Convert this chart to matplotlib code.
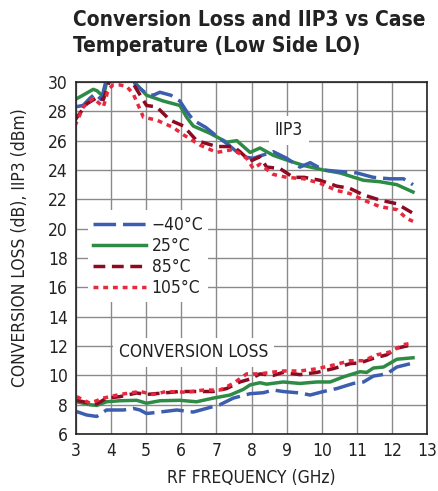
import matplotlib
matplotlib.use("Agg")
import matplotlib.pyplot as plt

plt.rcParams['font.family'] = ['DejaVu Sans']
plt.rcParams['font.stretch'] = 'condensed'

# ---- data ----
iip3_m40_f = [2.97, 3.2, 3.4, 3.55, 3.72, 3.9, 4.2, 4.5, 4.7, 5.01, 5.2, 5.39, 5.7, 5.96, 6.15, 6.34, 6.7, 7.01, 7.3, 7.5, 7.77, 8.05, 8.3, 8.62, 9.0, 9.38, 9.67, 10.05, 10.5, 11.0, 11.47, 11.95, 12.33, 12.6]
iip3_m40 = [28.3, 28.4, 28.9, 29.2, 28.8, 30.5, 31.0, 30.8, 29.8, 29.2, 29.1, 29.3, 29.1, 28.7, 28.0, 27.4, 26.9, 26.3, 25.8, 25.4, 24.9, 24.8, 25.0, 25.25, 24.8, 24.2, 24.5, 24.0, 23.9, 23.8, 23.5, 23.4, 23.4, 23.0]

iip3_25_f = [2.97, 3.2, 3.49, 3.6, 3.78, 3.92, 4.2, 4.5, 4.7, 5.01, 5.49, 5.96, 6.15, 6.34, 6.82, 7.29, 7.58, 7.96, 8.24, 8.62, 9.1, 9.5, 10.05, 10.52, 11.19, 11.66, 12.14, 12.6]
iip3_25 = [28.8, 29.1, 29.5, 29.4, 29.0, 30.5, 31.0, 30.8, 29.9, 29.1, 28.7, 28.4, 27.6, 27.0, 26.5, 25.9, 26.0, 25.2, 25.5, 25.0, 24.6, 24.3, 24.0, 23.8, 23.3, 23.2, 23.0, 22.5]

iip3_85_f = [2.97, 3.3, 3.64, 3.78, 3.97, 4.49, 4.7, 5.01, 5.3, 5.68, 6.06, 6.44, 7.01, 7.48, 7.67, 7.96, 8.24, 8.43, 8.81, 9.19, 9.5, 9.95, 10.43, 10.8, 11.19, 11.66, 12.14, 12.6]
iip3_85 = [27.4, 28.5, 29.0, 28.8, 30.2, 30.5, 29.6, 28.4, 28.3, 27.4, 27.0, 26.0, 25.6, 25.6, 25.25, 24.6, 24.9, 24.2, 24.1, 23.5, 23.5, 23.3, 22.9, 22.75, 22.3, 21.95, 21.7, 21.05]

iip3_105_f = [2.97, 3.21, 3.49, 3.78, 3.92, 4.06, 4.25, 4.44, 4.63, 4.92, 5.3, 5.77, 6.06, 6.53, 7.01, 7.48, 7.86, 8.05, 8.24, 8.62, 9.0, 9.5, 9.95, 10.43, 10.8, 11.19, 11.66, 12.14, 12.42, 12.6]
iip3_105 = [27.0, 28.3, 28.9, 28.3, 29.5, 29.8, 29.8, 29.7, 29.2, 27.6, 27.4, 26.9, 26.4, 25.7, 25.2, 25.4, 24.8, 24.1, 24.4, 23.7, 23.5, 23.4, 23.1, 22.6, 22.4, 21.95, 21.5, 21.3, 20.7, 20.5]

cl_m40_f = [3.02, 3.3, 3.59, 3.87, 4.35, 4.63, 4.82, 5.01, 5.39, 5.87, 6.34, 6.72, 7.1, 7.48, 7.96, 8.34, 8.62, 8.9, 9.38, 9.67, 10.05, 10.43, 10.9, 11.19, 11.47, 11.85, 12.14, 12.6]
cl_m40 = [7.53, 7.3, 7.2, 7.64, 7.64, 7.75, 7.64, 7.4, 7.5, 7.64, 7.5, 7.75, 8.0, 8.45, 8.75, 8.82, 9.0, 8.9, 8.8, 8.66, 8.9, 9.1, 9.45, 9.55, 9.95, 10.1, 10.57, 10.84]

cl_25_f = [3.02, 3.4, 3.59, 3.87, 4.25, 4.73, 5.01, 5.39, 5.96, 6.43, 6.91, 7.39, 7.77, 7.96, 8.24, 8.43, 8.9, 9.38, 9.86, 10.24, 10.62, 11.09, 11.28, 11.47, 11.76, 12.14, 12.6]
cl_25 = [8.2, 8.0, 7.95, 8.2, 8.27, 8.3, 8.1, 8.27, 8.3, 8.2, 8.45, 8.66, 9.05, 9.35, 9.5, 9.4, 9.55, 9.45, 9.55, 9.55, 9.9, 10.25, 10.2, 10.5, 10.57, 11.1, 11.2]

cl_85_f = [3.02, 3.4, 3.59, 3.87, 4.25, 4.73, 5.01, 5.49, 5.96, 6.43, 6.91, 7.29, 7.67, 7.96, 8.24, 8.62, 8.9, 9.38, 9.86, 10.33, 10.81, 11.09, 11.47, 11.85, 12.14, 12.6]
cl_85 = [8.3, 8.1, 8.05, 8.45, 8.55, 8.8, 8.7, 8.8, 8.9, 8.9, 8.9, 9.1, 9.55, 9.75, 10.1, 10.0, 10.2, 10.05, 10.2, 10.46, 10.8, 10.85, 11.16, 11.4, 11.85, 12.1]

cl_105_f = [3.02, 3.4, 3.78, 4.25, 4.82, 5.2, 5.58, 6.15, 6.63, 7.1, 7.48, 7.86, 8.24, 8.52, 8.9, 9.38, 9.86, 10.33, 10.81, 11.19, 11.57, 11.95, 12.33, 12.6]
cl_105 = [8.55, 8.1, 8.45, 8.7, 8.9, 8.7, 8.9, 8.85, 9.0, 9.0, 9.45, 10.1, 10.1, 10.2, 10.3, 10.3, 10.45, 10.7, 11.0, 11.0, 11.4, 11.6, 12.1, 12.2]

labels = ['\u221240\u00b0C', '25\u00b0C', '85\u00b0C', '105\u00b0C']
colors = ['#3b5fae', '#2e8b45', '#8c0a22', '#e8283c']
x_ticks = list(range(3, 14))
y_ticks = list(range(6, 31, 2))

TXT = '#222222'
fig = plt.figure(figsize=(4.38, 4.91), dpi=100)
ax = fig.add_axes([0.1735, 0.116, 0.8015, 0.717])

styles = [
    dict(dashes=(6.5, 2.0)),
    dict(linestyle='-'),
    dict(dashes=(3.4, 1.9)),
    dict(dashes=(1.4, 1.4)),
]
iip3 = [(iip3_m40_f, iip3_m40), (iip3_25_f, iip3_25), (iip3_85_f, iip3_85), (iip3_105_f, iip3_105)]
cl = [(cl_m40_f, cl_m40), (cl_25_f, cl_25), (cl_85_f, cl_85), (cl_105_f, cl_105)]

order = [1, 0, 2, 3]
handles = {}
for i in order:
    f, v = iip3[i]
    h, = ax.plot(f, v, color=colors[i], lw=2.5, label=labels[i], **styles[i])
    handles[i] = h
    f, v = cl[i]
    ax.plot(f, v, color=colors[i], lw=2.5, **styles[i])

ax.set_xlim(3, 13)
ax.set_ylim(6, 30)
ax.set_xticks(x_ticks)
ax.set_yticks(y_ticks)
ax.grid(True, color='#8a8a8a', lw=1.0)
ax.set_axisbelow(True)
ax.tick_params(length=0, labelsize=12.5, pad=6, labelcolor=TXT)
for s in ax.spines.values():
    s.set_color('#222222')
    s.set_linewidth(1.2)

ax.text(9.07, 26.7, 'IIP3', fontsize=12.5, ha='center', va='center', color=TXT,
        bbox=dict(facecolor='white', edgecolor='none', pad=4))
ax.text(6.35, 11.56, 'CONVERSION LOSS', fontsize=12.5, ha='center', va='center', color=TXT,
        bbox=dict(facecolor='white', edgecolor='none', pad=4))

leg = ax.legend([handles[i] for i in range(4)], labels, loc='upper left',
                bbox_to_anchor=(0.035, 0.635), frameon=True, fontsize=12.5,
                handlelength=3.0, handletextpad=0.35, labelspacing=0.18,
                borderpad=0.3, borderaxespad=0)
for t in leg.get_texts():
    t.set_color(TXT)
leg.get_frame().set_edgecolor('none')
leg.get_frame().set_facecolor('white')
leg.get_frame().set_alpha(1)

ax.set_xlabel('RF FREQUENCY (GHz)', fontsize=12.5, color=TXT)
ax.set_ylabel('CONVERSION LOSS (dB), IIP3 (dBm)', fontsize=12.5, color=TXT)
ax.xaxis.set_label_coords(0.5, -0.098)
ax.yaxis.set_label_coords(-0.135, 0.53)

fig.text(0.166, 0.979, 'Conversion Loss and IIP3 vs Case\nTemperature (Low Side LO)',
         fontsize=15, fontweight='bold', color=TXT,
         ha='left', va='top', linespacing=1.35)

fig.savefig('out.png', dpi=100)
